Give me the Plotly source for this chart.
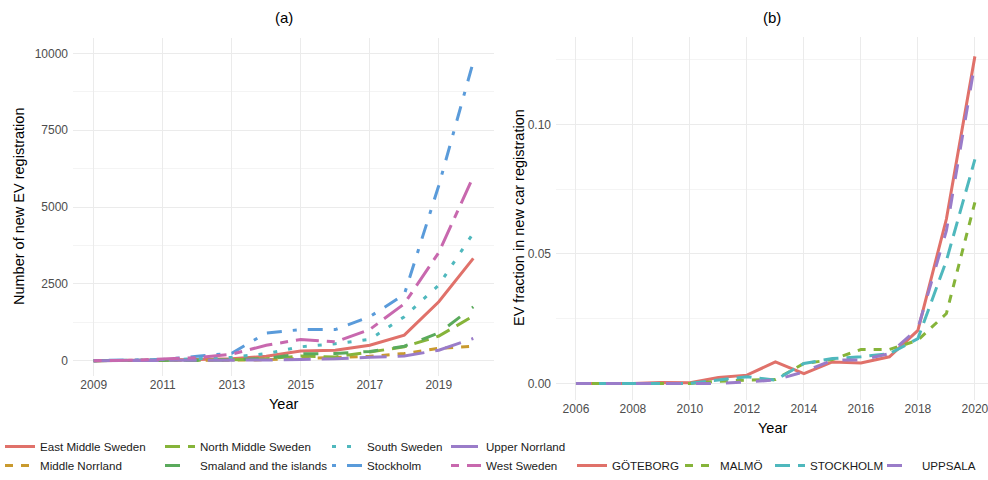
import plotly.graph_objects as go

# ---------------- data ----------------
years_a = [2009, 2010, 2011, 2012, 2013, 2014, 2015, 2016, 2017, 2018, 2019, 2020]
east_middle_sweden = [0, 5, 30, 40, 65, 140, 310, 340, 500, 830, 1915, 3330]
middle_norrland = [0, 0, 5, 10, 15, 30, 70, 90, 140, 230, 400, 470]
north_middle_sweden = [0, 0, 10, 15, 25, 60, 150, 120, 280, 450, 800, 1450]
smaland_islands = [0, 0, 10, 15, 30, 70, 220, 230, 300, 470, 900, 1750]
south_sweden = [0, 5, 25, 60, 110, 230, 450, 550, 690, 1430, 2460, 4150]
stockholm_region = [0, 10, 40, 140, 240, 900, 1010, 1010, 1430, 2150, 5700, 9730]
upper_norrland = [0, 0, 5, 10, 15, 20, 40, 60, 110, 150, 340, 720]
west_sweden = [0, 10, 50, 100, 210, 500, 690, 610, 1015, 1850, 3520, 5990]

years_b = [2006, 2007, 2008, 2009, 2010, 2011, 2012, 2013, 2014, 2015, 2016, 2017, 2018, 2019, 2020]
goteborg = [0, 0, 0, 0.0004, 0.0003, 0.0023, 0.0032, 0.0083, 0.0038, 0.0083, 0.0079, 0.0103, 0.0205, 0.0635, 0.1263]
malmo = [0, 0, 0, 0, 0, 0.0008, 0.0013, 0.0015, 0.0077, 0.0092, 0.0131, 0.0131, 0.0167, 0.0270, 0.0699]
stockholm_city = [0, 0, 0, 0, 0, 0.0013, 0.0026, 0.0013, 0.0077, 0.0096, 0.0103, 0.0115, 0.0173, 0.0474, 0.0865]
uppsala = [0, 0, 0, 0, 0, 0, 0.0006, 0.0013, 0.0045, 0.0090, 0.0090, 0.0115, 0.0212, 0.0590, 0.1237]

names_a = ["East Middle Sweden", "Middle Norrland", "North Middle Sweden", "Smaland and the islands",
           "South Sweden", "Stockholm", "Upper Norrland", "West Sweden"]
names_b = ["GÖTEBORG", "MALMÖ", "STOCKHOLM", "UPPSALA"]

# ---------------- styles ----------------
C_RED, C_GOLD, C_LIME, C_GREEN = "#E0716A", "#C99A2E", "#86B43A", "#5AAA5C"
C_TEAL, C_BLUE, C_PURPLE, C_MAG = "#4FB8BD", "#5A9BDA", "#9A7CC9", "#C868AE"

U = 3.8  # dash unit (px)
def dash(code):
    if code == "solid":
        return "solid"
    return ",".join(f"{round(int(c, 16) * U)}px" for c in code)

LW = 3.0
FONT = "Liberation Sans, Arial, sans-serif"

series_a = [
    (names_a[0], east_middle_sweden, C_RED, "solid", "legend"),
    (names_a[1], middle_norrland, C_GOLD, "22", "legend"),
    (names_a[2], north_middle_sweden, C_LIME, "42", "legend2"),
    (names_a[3], smaland_islands, C_GREEN, "44", "legend2"),
    (names_a[4], south_sweden, C_TEAL, "13", "legend3"),
    (names_a[5], stockholm_region, C_BLUE, "1343", "legend3"),
    (names_a[6], upper_norrland, C_PURPLE, "73", "legend4"),
    (names_a[7], west_sweden, C_MAG, "2262", "legend4"),
]
series_b = [
    (names_b[0], goteborg, C_RED, "solid", "legend5"),
    (names_b[1], malmo, C_LIME, "22", "legend6"),
    (names_b[2], stockholm_city, C_TEAL, "42", "legend7"),
    (names_b[3], uppsala, C_PURPLE, "44", "legend8"),
]

fig = go.Figure()
for name, vals, col, dcode, leg in series_a:
    fig.add_trace(go.Scatter(x=years_a, y=vals, mode="lines", name=name,
                             line=dict(color=col, width=LW, dash=dash(dcode)),
                             xaxis="x", yaxis="y", legend=leg))
for name, vals, col, dcode, leg in series_b:
    fig.add_trace(go.Scatter(x=years_b, y=vals, mode="lines", name=name,
                             line=dict(color=col, width=LW, dash=dash(dcode)),
                             xaxis="x2", yaxis="y2", legend=leg))

W, H = 988, 480
def px(x):
    return x / W
def py(y):
    return 1 - y / H

GRID = "#EBEBEB"
MINOR = "#F4F4F4"
tickfont = dict(family=FONT, size=12, color="#4D4D4D")
common_ax = dict(showline=False, zeroline=False, ticks="", tickfont=tickfont,
                 gridcolor=GRID, gridwidth=1.1, showgrid=True, ticklabeloverflow="allow")

legend_base = dict(orientation="v", xanchor="left", yanchor="top", bgcolor="rgba(0,0,0,0)",
                   font=dict(family=FONT, size=11.6, color="#1a1a1a"), tracegroupgap=0,
                   itemclick=False, itemdoubleclick=False)
row1_top = 432
leg_cols = {"legend": 0, "legend2": 160, "legend3": 327, "legend4": 446}
leg_right = {"legend5": 572, "legend6": 680, "legend7": 770, "legend8": 882}

layout_legends = {}
for k, xx in leg_cols.items():
    layout_legends[k] = dict(legend_base, x=px(xx), y=py(row1_top))
for k, xx in leg_right.items():
    layout_legends[k] = dict(legend_base, x=px(xx), y=py(row1_top + 19))

fig.update_layout(
    width=W, height=H, margin=dict(l=0, r=0, t=0, b=0, autoexpand=False),
    paper_bgcolor="white", plot_bgcolor="white",
    font=dict(family=FONT),
    showlegend=True,
    xaxis=dict(common_ax, domain=[px(73), px(494)], range=[2008.4, 2020.6],
               tick0=2009, dtick=2, anchor="y"),
    yaxis=dict(common_ax, domain=[py(376), py(38)], range=[-500, 10500],
               tick0=0, dtick=2500, tickformat="d", anchor="x", ticklabelstandoff=4,
               minor=dict(dtick=1250, tick0=0, showgrid=True, gridcolor=MINOR, gridwidth=0.8)),
    xaxis2=dict(common_ax, domain=[px(556), 1.0], range=[2005.3, 2020.46],
                tick0=2006, dtick=2, anchor="y2"),
    yaxis2=dict(common_ax, domain=[py(400), py(36.7)], range=[-0.0064, 0.1339],
                tick0=0, dtick=0.05, tickformat=".2f", anchor="x2", ticklabelstandoff=4,
                minor=dict(dtick=0.025, tick0=0, showgrid=True, gridcolor=MINOR, gridwidth=0.8)),
    **layout_legends,
)

title_font = dict(family=FONT, size=15, color="black")
axis_title_font = dict(family=FONT, size=14.5, color="black")
annots = [
    dict(text="(a)", x=px(283.5), y=py(18), xanchor="center", yanchor="middle", font=title_font),
    dict(text="(b)", x=px(772), y=py(18), xanchor="center", yanchor="middle", font=title_font),
    dict(text="Year", x=px(283.5), y=py(404), xanchor="center", yanchor="middle", font=axis_title_font),
    dict(text="Year", x=px(772), y=py(428), xanchor="center", yanchor="middle", font=axis_title_font),
    dict(text="Number of new EV registration", x=px(19), y=py(207), textangle=-90,
         xanchor="center", yanchor="middle", font=axis_title_font),
    dict(text="EV fraction in new car registration", x=px(519), y=py(218), textangle=-90,
         xanchor="center", yanchor="middle", font=axis_title_font),
]
for a in annots:
    a.update(xref="paper", yref="paper", showarrow=False)
fig.update_layout(annotations=annots)

fig.write_html("out.html", config={"displayModeBar": False},
               post_script="document.body.style.margin='0px';document.body.style.padding='0px';")
